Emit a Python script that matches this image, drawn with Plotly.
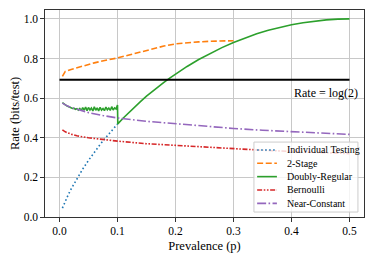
import plotly.graph_objects as go

# ---------------- data ----------------
p_ind = [0.005, 0.01, 0.015, 0.02, 0.03, 0.04, 0.05, 0.06, 0.07, 0.08, 0.09, 0.1]
r_ind = [0.045, 0.081, 0.112, 0.141, 0.194, 0.242, 0.286, 0.327, 0.366, 0.402, 0.436, 0.469]

p_two = [0.005, 0.0075, 0.01, 0.02, 0.03, 0.04, 0.05, 0.06, 0.07, 0.08, 0.09, 0.1,
         0.12, 0.14, 0.16, 0.18, 0.2, 0.22, 0.24, 0.26, 0.28, 0.3]
r_two = [0.710, 0.722, 0.735, 0.745, 0.754, 0.762, 0.770, 0.778, 0.785, 0.790, 0.797, 0.803,
         0.818, 0.834, 0.849, 0.863, 0.874, 0.880, 0.884, 0.887, 0.889, 0.890]

p_dr = [0.005, 0.0075, 0.01, 0.0125, 0.015, 0.0175, 0.02, 0.0225, 0.025, 0.0275,
        0.03, 0.0325, 0.035, 0.0375, 0.04, 0.0425, 0.045, 0.0475, 0.05, 0.0525,
        0.055, 0.0575, 0.06, 0.0625, 0.065, 0.0675, 0.07, 0.0725, 0.075, 0.0775,
        0.08, 0.0825, 0.085, 0.0875, 0.09, 0.0925, 0.095, 0.0975, 0.1, 0.1005,
        0.11, 0.12, 0.13, 0.14, 0.15, 0.16, 0.17, 0.18, 0.19, 0.2,
        0.22, 0.24, 0.26, 0.28, 0.3, 0.32, 0.34, 0.36, 0.38, 0.4,
        0.42, 0.44, 0.46, 0.48, 0.5]
r_dr = [0.577, 0.570, 0.566, 0.561, 0.558, 0.554, 0.552, 0.548, 0.549, 0.544,
        0.547, 0.540, 0.548, 0.537, 0.552, 0.539, 0.555, 0.537, 0.553, 0.540,
        0.550, 0.535, 0.556, 0.539, 0.551, 0.536, 0.554, 0.540, 0.548, 0.537,
        0.555, 0.541, 0.550, 0.538, 0.557, 0.540, 0.551, 0.545, 0.565, 0.470,
        0.500, 0.529, 0.557, 0.584, 0.610, 0.634, 0.658, 0.680, 0.701, 0.722,
        0.760, 0.795, 0.827, 0.855, 0.881, 0.904, 0.925, 0.943, 0.958, 0.971,
        0.981, 0.989, 0.995, 0.999, 1.000]

p_ber = [0.005, 0.01, 0.02, 0.03, 0.05, 0.075, 0.1, 0.15, 0.2, 0.25, 0.3, 0.35, 0.4, 0.45, 0.5]
r_ber = [0.440, 0.430, 0.418, 0.410, 0.400, 0.390, 0.383, 0.370, 0.361, 0.353, 0.345, 0.337, 0.331, 0.325, 0.320]

p_nc = [0.005, 0.01, 0.02, 0.03, 0.05, 0.075, 0.1, 0.15, 0.2, 0.25, 0.3, 0.35, 0.4, 0.45, 0.5]
r_nc = [0.575, 0.566, 0.553, 0.543, 0.527, 0.512, 0.500, 0.483, 0.470, 0.458, 0.447, 0.438, 0.430, 0.423, 0.417]

p_log2 = [0.0, 0.5]
r_log2 = [0.693, 0.693]

x_ticks = [0.0, 0.1, 0.2, 0.3, 0.4, 0.5]
y_ticks = [0.0, 0.2, 0.4, 0.6, 0.8, 1.0]

names = ["Individual Testing", "2-Stage", "Doubly-Regular", "Bernoulli", "Near-Constant"]
colors = ["#1f77b4", "#ff7f0e", "#2ca02c", "#d62728", "#9467bd"]
dashes = ["1.6px,2.4px", "6px,2.6px", "solid",
          "5px,1.6px,1.6px,1.6px,1.6px,1.6px", "9px,2.4px,1.6px,2.4px"]

FONT = "Liberation Serif"

fig = go.Figure()
series = [(p_ind, r_ind), (p_two, r_two), (p_dr, r_dr), (p_ber, r_ber), (p_nc, r_nc)]
for (xs, ys), n, c, d in zip(series, names, colors, dashes):
    fig.add_trace(go.Scatter(x=xs, y=ys, mode="lines", name=n, showlegend=False,
                             line=dict(color=c, width=1.6, dash=d)))

fig.add_trace(go.Scatter(x=p_log2, y=r_log2, mode="lines", showlegend=False,
                         line=dict(color="black", width=2.2)))

fig.add_annotation(x=0.4, y=0.625, xref="x", yref="y", text="Rate = log(2)",
                   showarrow=False, xanchor="left", yanchor="middle",
                   font=dict(family=FONT, size=12, color="black"))

# ---- legend box (drawn in paper coordinates) ----
lx0, lx1, ly0, ly1 = 0.655, 0.981, 0.024, 0.362
fig.add_shape(type="rect", xref="paper", yref="paper", x0=lx0, x1=lx1, y0=ly0, y1=ly1,
              line=dict(color="#cccccc", width=1), fillcolor="rgba(255,255,255,0.8)", layer="above")
top, step = 0.324, 0.0645
for i, (n, c, d) in enumerate(zip(names, colors, dashes)):
    yy = top - i * step
    fig.add_shape(type="line", xref="paper", yref="paper", x0=0.665, x1=0.727, y0=yy, y1=yy,
                  line=dict(color=c, width=1.6, dash=d), layer="above")
    fig.add_annotation(x=0.752, y=yy, xref="paper", yref="paper", text=n, showarrow=False,
                       xanchor="left", yanchor="middle",
                       font=dict(family=FONT, size=10, color="black"))

# page body has an 8px default margin, so the figure is sized/offset to compensate
fig.update_layout(
    width=366, height=250,
    margin=dict(l=37, r=10, t=2, b=41),
    paper_bgcolor="white", plot_bgcolor="white",
    font=dict(family=FONT, size=11, color="black"),
)
fig.update_xaxes(range=[-0.025, 0.525], tickvals=x_ticks, ticktext=[f"{v:.1f}" for v in x_ticks],
                 showgrid=True, gridcolor="#c8c8c8", gridwidth=1, zeroline=False,
                 showline=True, linecolor="#333333", linewidth=1.2, mirror=True,
                 ticks="outside", ticklen=3.5, tickcolor="#333333",
                 title=dict(text="Prevalence (p)", font=dict(family=FONT, size=12.5), standoff=4),
                 tickfont=dict(family=FONT, size=11.5))
fig.update_yaxes(range=[0, 1.045], tickvals=y_ticks, ticktext=[f"{v:.1f}" for v in y_ticks],
                 showgrid=True, gridcolor="#c8c8c8", gridwidth=1, zeroline=False,
                 showline=True, linecolor="#333333", linewidth=1.2, mirror=True,
                 ticks="outside", ticklen=3.5, tickcolor="#333333",
                 title=dict(text="Rate (bits/test)", font=dict(family=FONT, size=12.5), standoff=4),
                 tickfont=dict(family=FONT, size=11.5))

fig.write_html("out.html")
